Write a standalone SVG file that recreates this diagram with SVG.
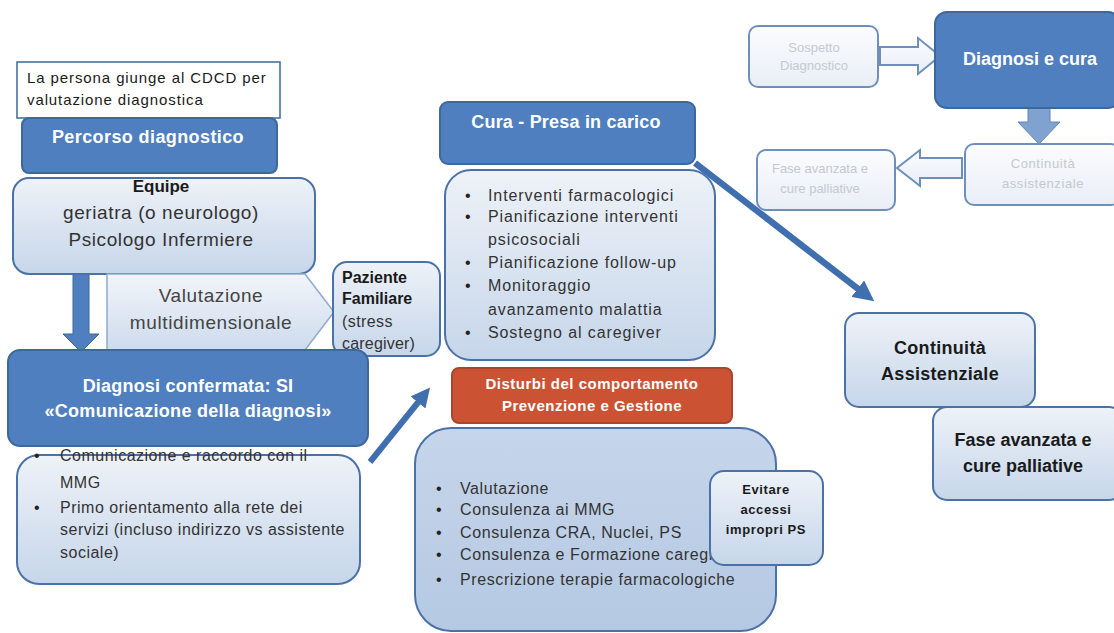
<svg xmlns="http://www.w3.org/2000/svg" width="1114" height="633" viewBox="0 0 1114 633">
<style>
text{font-family:"Liberation Sans",Arial,sans-serif;}
.dark{fill:#4f7fbe;stroke:#3d689c;stroke-width:2;}
.light{fill:url(#lg);stroke:#4a72a6;stroke-width:2;}
.mid{fill:url(#mg);stroke:#4a72a6;stroke-width:2;}
.faint{fill:url(#fg);stroke:#6f8fbb;stroke-width:2;}
.wt{fill:#fff;font-weight:bold;}
.bt{fill:#1a1a1a;}
.ft{fill:#c4c9d0;}
.bul{fill:#222;}
</style>
<defs>
<linearGradient id="lg" x1="0" y1="0" x2="0" y2="1"><stop offset="0" stop-color="#eef2f8"/><stop offset="1" stop-color="#c6d6ea"/></linearGradient>
<linearGradient id="mg" x1="0" y1="0" x2="0" y2="1"><stop offset="0" stop-color="#c6d5ea"/><stop offset="1" stop-color="#b5c9e3"/></linearGradient>
<linearGradient id="fg" x1="0" y1="0" x2="0" y2="1"><stop offset="0" stop-color="#fbfcfe"/><stop offset="1" stop-color="#e9eef6"/></linearGradient>
<linearGradient id="ag" x1="0" y1="0" x2="0" y2="1"><stop offset="0" stop-color="#f2f5fa"/><stop offset="1" stop-color="#cddbed"/></linearGradient>
<marker id="ah" viewBox="0 0 10 10" refX="5" refY="5" markerWidth="3.2" markerHeight="3.2" orient="auto"><path d="M0,0 L10,5 L0,10 Z" fill="#3f6fae"/></marker>
</defs>

<g id="connectors">
<path d="M73,274 H89 V334 H99 L81,352 L63,334 H73 Z" fill="#4f7fbe" stroke="#3d689c" stroke-width="1"/>
<line x1="370" y1="462" x2="424" y2="395" stroke="#3f6fae" stroke-width="6" marker-end="url(#ah)"/>
<line x1="695" y1="163" x2="866" y2="295" stroke="#3f6fae" stroke-width="6.5" marker-end="url(#ah)"/>
<path d="M880,47 H918 V38 L940,56 L918,74 V65 H880 Z" fill="url(#fg)" stroke="#6f8fbb" stroke-width="2"/>
<path d="M1028,103 H1050 V122 H1060 L1039,144 L1018,122 H1028 Z" fill="#7fa2d0" stroke="#5f86bb" stroke-width="1"/>
<path d="M962,158 H920 V150 L897,168 L920,186 V178 H962 Z" fill="url(#fg)" stroke="#6f8fbb" stroke-width="2"/>
</g>

<g id="n-persona">
<rect x="17" y="62" width="263" height="56" fill="#fff" stroke="#3d689c" stroke-width="1.5"/>
<text x="27" y="83" font-size="15" letter-spacing="0.9" class="bt">La persona giunge al CDCD per</text>
<text x="27" y="105" font-size="15" letter-spacing="0.9" class="bt">valutazione diagnostica</text>
</g>

<g id="n-percorso">
<rect x="22" y="118" width="255" height="55" rx="7" class="dark"/>
<text x="148" y="143" font-size="18" letter-spacing="0.4" class="wt" text-anchor="middle">Percorso diagnostico</text>
</g>

<g id="n-equipe">
<rect x="13" y="178" width="302" height="96" rx="16" class="light"/>
<text x="161" y="192" font-size="17" font-weight="bold" class="bt" text-anchor="middle">Equipe</text>
<text x="161" y="219" font-size="19" letter-spacing="0.6" fill="#333" text-anchor="middle">geriatra (o neurologo)</text>
<text x="161" y="246" font-size="19" letter-spacing="0.6" fill="#333" text-anchor="middle">Psicologo  Infermiere</text>
</g>

<g id="n-valutazione">
<path d="M107,274 H305 L334,312 L305,350 H107 Z" fill="url(#ag)" stroke="#8eaad0" stroke-width="1.5"/>
<text x="211" y="302" font-size="19" letter-spacing="0.6" fill="#444" text-anchor="middle">Valutazione</text>
<text x="211" y="329" font-size="19" letter-spacing="0.6" fill="#444" text-anchor="middle">multidimensionale</text>
</g>

<g id="n-paziente">
<rect x="333" y="262" width="107" height="94" rx="14" class="light"/>
<text x="342" y="283" font-size="16" font-weight="bold" class="bt">Paziente</text>
<text x="342" y="304" font-size="16" font-weight="bold" class="bt">Familiare</text>
<text x="342" y="327" font-size="16" letter-spacing="0.4" fill="#333">(stress</text>
<text x="342" y="349" font-size="16" letter-spacing="0.2" fill="#333">caregiver)</text>
</g>

<g id="n-comunicazione">
<rect x="17" y="455" width="343" height="129" rx="22" class="light"/>
<text font-size="16" letter-spacing="0.5" fill="#333">
<tspan x="34" y="461" class="bul">•</tspan><tspan x="60" y="461">Comunicazione e raccordo con il</tspan>
<tspan x="60" y="488">MMG</tspan>
<tspan x="34" y="513" class="bul">•</tspan><tspan x="60" y="513">Primo orientamento alla rete dei</tspan>
<tspan x="60" y="535">servizi (incluso indirizzo vs assistente</tspan>
<tspan x="60" y="558">sociale)</tspan>
</text>
</g>

<g id="n-diagnosi">
<rect x="8" y="350" width="360" height="96" rx="12" class="dark"/>
<text x="188" y="392" font-size="18" letter-spacing="0.2" class="wt" text-anchor="middle">Diagnosi confermata: SI</text>
<text x="188" y="417" font-size="18" letter-spacing="0.3" class="wt" text-anchor="middle">«Comunicazione della diagnosi»</text>
</g>

<g id="n-cura">
<rect x="440" y="102" width="255" height="62" rx="8" class="dark"/>
<text x="566" y="128" font-size="18" letter-spacing="0.2" class="wt" text-anchor="middle">Cura - Presa in carico</text>
</g>

<g id="n-interventi">
<rect x="445" y="170" width="270" height="190" rx="26" class="light"/>
<text font-size="16" letter-spacing="0.9" fill="#333">
<tspan x="465" y="201" class="bul">•</tspan><tspan x="488" y="201">Interventi farmacologici</tspan>
<tspan x="465" y="222" class="bul">•</tspan><tspan x="488" y="222">Pianificazione interventi</tspan>
<tspan x="488" y="245">psicosociali</tspan>
<tspan x="465" y="268" class="bul">•</tspan><tspan x="488" y="268">Pianificazione follow-up</tspan>
<tspan x="465" y="291" class="bul">•</tspan><tspan x="488" y="291">Monitoraggio</tspan>
<tspan x="488" y="315">avanzamento malattia</tspan>
<tspan x="465" y="338" class="bul">•</tspan><tspan x="488" y="338">Sostegno al caregiver</tspan>
</text>
</g>

<g id="n-disturbi">
<rect x="452" y="368" width="280" height="55" rx="7" fill="#cc5234" stroke="#a8452c" stroke-width="2"/>
<text x="592" y="389" font-size="15" letter-spacing="0.5" class="wt" text-anchor="middle">Disturbi del comportamento</text>
<text x="592" y="411" font-size="15" letter-spacing="0.5" class="wt" text-anchor="middle">Prevenzione e Gestione</text>
</g>

<g id="n-valutazione2">
<rect x="415" y="428" width="361" height="203" rx="36" class="mid"/>
<text font-size="16" letter-spacing="0.6" fill="#333">
<tspan x="436" y="494" class="bul">•</tspan><tspan x="460" y="494">Valutazione</tspan>
<tspan x="436" y="515" class="bul">•</tspan><tspan x="460" y="515">Consulenza  ai MMG</tspan>
<tspan x="436" y="538" class="bul">•</tspan><tspan x="460" y="538">Consulenza  CRA, Nuclei, PS</tspan>
<tspan x="436" y="560" class="bul">•</tspan><tspan x="460" y="560">Consulenza  e Formazione caregiver</tspan>
<tspan x="436" y="585" class="bul">•</tspan><tspan x="460" y="585">Prescrizione terapie farmacologiche</tspan>
</text>
</g>

<g id="n-evitare">
<rect x="710" y="471" width="113" height="94" rx="14" class="light"/>
<text x="766" y="494" font-size="13" letter-spacing="0.6" font-weight="bold" class="bt" text-anchor="middle">Evitare</text>
<text x="766" y="514" font-size="13" letter-spacing="0.6" font-weight="bold" class="bt" text-anchor="middle">accessi</text>
<text x="766" y="534" font-size="13" letter-spacing="0.6" font-weight="bold" class="bt" text-anchor="middle">impropri PS</text>
</g>

<g id="n-sospetto">
<rect x="749" y="26" width="129" height="61" rx="9" class="faint"/>
<text x="814" y="52" font-size="13" class="ft" text-anchor="middle">Sospetto</text>
<text x="814" y="70" font-size="13" class="ft" text-anchor="middle">Diagnostico</text>
</g>

<g id="n-diagnosicura">
<rect x="935" y="12" width="185" height="96" rx="12" class="dark"/>
<text x="1030" y="65" font-size="18" class="wt" text-anchor="middle">Diagnosi e cura</text>
</g>

<g id="n-continuita-faint">
<rect x="965" y="144" width="155" height="61" rx="9" class="faint"/>
<text x="1043" y="168" font-size="13" letter-spacing="0.6" class="ft" text-anchor="middle">Continuità</text>
<text x="1043" y="188" font-size="13" letter-spacing="0.6" class="ft" text-anchor="middle">assistenziale</text>
</g>

<g id="n-fase-faint">
<rect x="757" y="150" width="138" height="60" rx="9" class="faint"/>
<text x="820" y="173" font-size="13" class="ft" text-anchor="middle">Fase avanzata e</text>
<text x="820" y="193" font-size="13" class="ft" text-anchor="middle">cure palliative</text>
</g>

<g id="n-continuita">
<rect x="845" y="313" width="190" height="94" rx="14" class="light"/>
<text x="940" y="354" font-size="18" letter-spacing="0.3" font-weight="bold" class="bt" text-anchor="middle">Continuità</text>
<text x="940" y="380" font-size="18" letter-spacing="0.3" font-weight="bold" class="bt" text-anchor="middle">Assistenziale</text>
</g>

<g id="n-fase">
<rect x="933" y="407" width="190" height="93" rx="14" class="light"/>
<text x="1023" y="446" font-size="18" font-weight="bold" class="bt" text-anchor="middle">Fase avanzata e</text>
<text x="1023" y="472" font-size="18" font-weight="bold" class="bt" text-anchor="middle">cure palliative</text>
</g>
</svg>
